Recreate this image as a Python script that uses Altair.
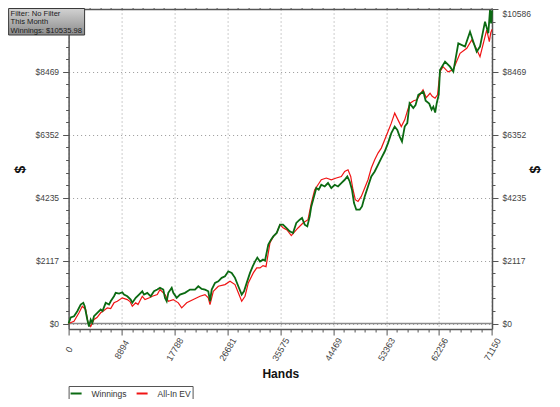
import altair as alt
import pandas as pd

# ---- data ----
series_names = ["Winnings", "All-In EV"]
series_colors = ["#0b6a12", "#f01414"]

winnings_points = [
    (0, 0), (353, 202), (907, 245), (1462, 413), (2033, 638), (2470, 696), (2706, 581),
    (3143, 134), (3428, -100), (3714, 134), (3983, 24), (4268, 245), (4823, 360), (5394, 470),
    (5697, 420), (6235, 696), (6789, 638), (7075, 749), (7630, 917), (7915, 1032), (8486, 1008),
    (9024, 1052), (9310, 974), (9865, 917), (10436, 806), (10705, 696), (11276, 864),
    (11832, 974), (12385, 1085), (12671, 974), (13226, 1032), (13797, 917), (14352, 1085),
    (14906, 1142), (15360, 1200), (15914, 1142), (16200, 864), (16485, 749), (16755, 1032),
    (17326, 1200), (17595, 1032), (18166, 864), (18720, 974), (19560, 1032), (20400, 1142),
    (21240, 1142), (21796, 1253), (22367, 1166), (22921, 1142), (23476, 1085), (23762, 749),
    (24048, 1142), (24602, 1368), (25157, 1421), (25728, 1536), (26282, 1589), (26837, 1757),
    (27408, 1704), (27963, 1536), (28518, 1253), (29089, 974), (29476, 1085), (29930, 1368),
    (30485, 1704), (30938, 1925), (31325, 2083), (31711, 2218), (32165, 2083), (32669, 2150),
    (33005, 2117), (33560, 2654), (34014, 2822), (34400, 2933), (34971, 3048), (35525, 3326),
    (36030, 3326), (36585, 3216), (37156, 3101), (37710, 3048), (38265, 3384), (38836, 3494),
    (39222, 3552), (39676, 3326), (40113, 3269), (40517, 3605), (40786, 3941), (41240, 4277),
    (41626, 4560), (42029, 4502), (42466, 4670), (43037, 4613), (43592, 4728), (44146, 4560),
    (44718, 4670), (45272, 4613), (45827, 4728), (46398, 4838), (46835, 4949), (47238, 4781),
    (47625, 4502), (47961, 4055), (48348, 3830), (48919, 3830), (49306, 3941), (49760, 4277),
    (50314, 4613), (50869, 4949), (51440, 5117), (51995, 5342), (52549, 5568), (53120, 5789),
    (53675, 6072), (54230, 6408), (54801, 6629), (55238, 6518), (55641, 6293), (56027, 6125),
    (56481, 6629), (56918, 6744), (57300, 7415), (57925, 7250), (58300, 7350), (58770, 7695),
    (59610, 7805), (60000, 7500), (60600, 7400), (61000, 7200), (61290, 7300), (61600, 7100),
    (61860, 7415), (62200, 7700), (62415, 8535), (63255, 8815), (64095, 8645), (64650, 8480),
    (65490, 9430), (66615, 9320), (67455, 9820), (68010, 9485), (68580, 9150), (69135, 9320),
    (69975, 10160), (70530, 9770), (70815, 10550), (71000, 10100), (71150, 10536),
]

allin_ev_points = [
    (0, 0), (907, 77), (1748, 360), (2302, 581), (2874, 470), (3260, 24), (3714, -101),
    (4268, 134), (4773, 202), (5394, 360), (5949, 437), (6503, 528), (7075, 504), (7630, 696),
    (8184, 749), (9024, 864), (9865, 806), (10318, 739), (10705, 581), (11276, 696),
    (11662, 638), (12385, 917), (12839, 806), (13680, 874), (14066, 917), (14906, 974),
    (15360, 1142), (16200, 974), (16755, 749), (17595, 806), (18435, 696), (19006, 528),
    (19847, 696), (20956, 806), (22081, 917), (22921, 974), (23476, 864), (23762, 638),
    (24317, 1085), (25157, 1253), (26282, 1310), (27123, 1421), (27963, 1310), (28518, 1032),
    (29089, 749), (29643, 917), (30198, 1368), (31038, 1704), (31610, 1872), (32165, 1872),
    (32669, 1949), (33173, 1915), (33845, 2722), (34400, 2923), (34971, 3048), (35525, 3326),
    (36030, 3226), (36700, 3150), (37424, 2957), (38550, 3216), (39390, 3384), (40230, 3494),
    (40786, 4055), (41357, 4502), (41912, 4670), (42466, 4838), (43306, 4896), (44146, 4838),
    (44987, 4896), (45827, 4949), (46398, 5117), (46953, 5174), (47407, 4949), (47793, 4502),
    (48180, 4166), (48634, 4109), (49188, 4277), (49760, 4560), (50314, 4838), (50869, 5232),
    (51440, 5510), (51995, 5736), (52549, 5904), (53120, 6182), (53675, 6461), (54230, 6744),
    (54801, 7080), (55355, 6854), (55910, 6629), (56481, 6854), (57000, 7200), (57375, 7415),
    (58000, 7500), (58500, 7530), (59560, 7865), (60100, 7600), (60740, 7750), (61100, 7650),
    (61580, 7585), (62000, 7700), (62415, 8480), (62920, 8645), (63760, 8470), (64600, 8535),
    (65780, 9095), (66905, 9265), (67745, 9545), (68465, 9275), (69135, 8980), (70260, 9880),
    (70700, 9490), (70935, 9780), (71150, 9900),
]

x_tick_labels = ["0", "8894", "17788", "26681", "35575", "44469", "53363", "62256", "71150"]
y_tick_labels = ["$0", "$2117", "$4235", "$6352", "$8469", "$10586"]
info_lines = ["Filter: No Filter", "This Month", "Winnings: $10535.98"]
x_title = "Hands"
y_title = "$"

X_MAX = 71150
Y_MAX = 10586
Y_MIN = -185

# ---- tables ----
rows = []
for name, pts in zip(series_names, [winnings_points, allin_ev_points]):
    for i, (h, v) in enumerate(pts):
        rows.append({"series": name, "hands": h, "dollars": v, "order": i})
df = pd.DataFrame(rows)

x_major = X_MAX / (len(x_tick_labels) - 1)
x_minor = x_major / 5
x_vals = [round(i * x_minor, 4) for i in range(5 * (len(x_tick_labels) - 1) + 1)]
y_major = Y_MAX / (len(y_tick_labels) - 1)
y_minor = y_major / 5
y_vals = [round(i * y_minor, 4) for i in range(5 * (len(y_tick_labels) - 1) + 1)]


def major_test(step):
    return f"abs(datum.value/{step} - round(datum.value/{step})) < 0.001"


def label_expr(step, labels):
    expr = "''"
    for i in range(len(labels) - 1, -1, -1):
        expr = f"(abs(datum.value - {i * step}) < 1 ? '{labels[i]}' : {expr})"
    return expr


FONT = "Liberation Sans"
AX = "#555555"

xs = alt.Scale(domain=[0, X_MAX], nice=False, zero=False)
ys = alt.Scale(domain=[Y_MIN, Y_MAX], nice=False, zero=False)
color_scale = alt.Scale(domain=series_names, range=series_colors)

bottom_axis = alt.Axis(
    orient="bottom", values=x_vals, labelExpr=label_expr(x_major, x_tick_labels),
    labelAngle=300, labelAlign="center", labelBaseline="middle", labelPadding=14,
    labelFont=FONT, labelFontSize=9, labelColor="#444444", labelOverlap=False,
    labelFlush=False, labelBound=False,
    tickSize={"condition": {"test": major_test(x_major), "value": 6}, "value": 3},
    tickColor=AX, tickWidth=1, domainColor=AX, domainWidth=1.5,
    grid=True, gridColor="#999999", gridDash=[1, 3], gridWidth=1,
    gridOpacity={"condition": {"test": major_test(x_major), "value": 1}, "value": 0},
    title=x_title, titleFont=FONT, titleFontSize=12, titleFontWeight="bold",
    titleColor="#111111", titleY=44, titleBaseline="middle",
)
# the top-left label is hidden under the info box in the reference
left_axis = alt.Axis(
    orient="left", values=y_vals, labelExpr=label_expr(y_major, y_tick_labels[:-1]),
    labelFont=FONT, labelFontSize=8.5, labelColor="#444444", labelOverlap=False,
    labelFlush=False, labelPadding=4,
    tickSize={"condition": {"test": major_test(y_major), "value": 6}, "value": 3},
    tickColor=AX, domainColor=AX, domainWidth=1.5,
    grid=True, gridColor="#999999", gridDash=[1, 3], gridWidth=1,
    gridOpacity={"condition": {"test": major_test(y_major), "value": 1}, "value": 0},
    title=y_title, titleFont=FONT, titleFontSize=14, titleFontWeight="bold",
    titleColor="#111111", titleAngle=270, titleX=-48, titleY=160,
    titleAlign="center", titleBaseline="middle",
)
top_axis = alt.Axis(
    orient="top", values=x_vals, labels=False, grid=False, title=None,
    tickSize={"condition": {"test": major_test(x_major), "value": 5}, "value": 3},
    tickColor=AX, domainColor=AX, domainWidth=1.5,
)
right_axis = alt.Axis(
    orient="right", values=y_vals, labelExpr=label_expr(y_major, y_tick_labels),
    labelFont=FONT, labelFontSize=8.5, labelColor="#444444", labelOverlap=False,
    labelFlush=True, labelPadding=4, grid=False,
    tickSize={"condition": {"test": major_test(y_major), "value": 6}, "value": 3},
    tickColor=AX, domainColor=AX, domainWidth=1.5,
    title=y_title, titleFont=FONT, titleFontSize=14, titleFontWeight="bold",
    titleColor="#111111", titleAngle=270, titleX=43, titleY=160,
    titleAlign="center", titleBaseline="middle",
)

legend = alt.Legend(
    orient="none", legendX=0, legendY=377, direction="horizontal", title=None,
    symbolType="stroke", symbolSize=121, symbolStrokeWidth=2,
    labelFont=FONT, labelFontSize=8.5, labelColor="#333333",
    strokeColor="#555555", padding=1, columnPadding=6, labelOffset=9,
)

base = alt.Chart(df)
ev_line = base.transform_filter(alt.datum.series == "All-In EV").mark_line(
    strokeWidth=1.2
).encode(
    x=alt.X("hands:Q", scale=xs, axis=bottom_axis),
    y=alt.Y("dollars:Q", scale=ys, axis=left_axis),
    color=alt.Color("series:N", scale=color_scale, legend=legend),
    order="order:Q",
)
win_line = base.transform_filter(alt.datum.series == "Winnings").mark_line(
    strokeWidth=1.8
).encode(
    x=alt.X("hands:Q", scale=xs, axis=bottom_axis),
    y=alt.Y("dollars:Q", scale=ys, axis=left_axis),
    color=alt.Color("series:N", scale=color_scale, legend=legend),
    order="order:Q",
)
lines = alt.layer(ev_line, win_line)

zero_df = pd.DataFrame({"x": [0], "x2": [X_MAX], "y": [0]})
zero_line = alt.Chart(zero_df).mark_rule(color="#8a8a8a", strokeWidth=1.5).encode(
    x=alt.X("x:Q", scale=xs, axis=top_axis),
    x2="x2:Q",
    y=alt.Y("y:Q", scale=ys, axis=right_axis),
)

info_df = pd.DataFrame({"t": ["\n".join(info_lines)]})
info_box = alt.Chart(info_df).mark_rect(
    fill=alt.Gradient(
        gradient="linear",
        stops=[alt.GradientStop(color="#d2d2d2", offset=0),
               alt.GradientStop(color="#8c8c8c", offset=1)],
        x1=0, x2=0, y1=0, y2=1,
    ),
    stroke="#3a3a3a", strokeWidth=1,
).encode(x=alt.value(-60), x2=alt.value(16), y=alt.value(-0.5), y2=alt.value(26))
info_text = alt.Chart(info_df).mark_text(
    align="left", baseline="top", font=FONT, fontSize=7.6, color="#1a1a1a",
    lineBreak="\n", lineHeight=8.6,
).encode(text="t:N", x=alt.value(-58), y=alt.value(0.5))

chart = alt.layer(zero_line, lines, info_box, info_text).resolve_axis(
    x="independent", y="independent"
).properties(
    width=423.4, height=320,
    padding={"left": 60.6, "top": 1, "right": 60, "bottom": 70},
    autosize="none",
    background="white",
).configure_view(strokeWidth=0)

chart.save("out.html", embed_options={"renderer": "svg", "actions": False})
